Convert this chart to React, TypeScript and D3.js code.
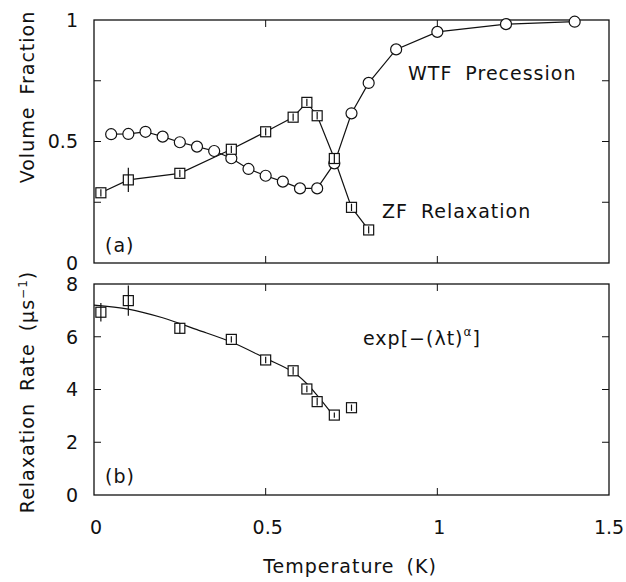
import * as d3 from "d3";

// WTF precession fraction (circles)
const wtfT = [0.05, 0.1, 0.15, 0.2, 0.25, 0.3, 0.35, 0.4, 0.45, 0.5, 0.55, 0.6, 0.65, 0.7, 0.75, 0.8, 0.88, 1.0, 1.2, 1.4];
const wtfV = [0.53, 0.531, 0.54, 0.52, 0.497, 0.479, 0.461, 0.431, 0.387, 0.359, 0.335, 0.307, 0.307, 0.41, 0.616, 0.741, 0.879, 0.951, 0.983, 0.993];

// ZF relaxation fraction (squares)
const zfT = [0.02, 0.1, 0.25, 0.4, 0.5, 0.58, 0.62, 0.65, 0.7, 0.75, 0.8];
const zfV = [0.289, 0.342, 0.369, 0.468, 0.54, 0.6, 0.661, 0.606, 0.43, 0.229, 0.136];
const zfErr = [0.015, 0.05, 0.015, 0.015, 0.015, 0.015, 0.015, 0.015, 0.02, 0.015, 0.015];

// relaxation rate (b)
const rateT = [0.02, 0.1, 0.25, 0.4, 0.5, 0.58, 0.62, 0.65, 0.7, 0.75];
const rateV = [6.93, 7.37, 6.32, 5.9, 5.12, 4.71, 4.02, 3.54, 3.03, 3.31];
const rateErr = [0.35, 0.57, 0.2, 0.12, 0.12, 0.15, 0.12, 0.15, 0.1, 0.12];

// fitted curve through (b)
const fitT = [0, 0.1, 0.2, 0.3, 0.4, 0.5, 0.58, 0.62, 0.65, 0.7];
const fitV = [7.2, 7.05, 6.72, 6.27, 5.8, 5.18, 4.66, 4.22, 3.78, 2.97];

const xTicks = [0, 0.5, 1, 1.5];
const fracTicks = [0, 0.5, 1];
const fracMinor = [0.25, 0.5, 0.75];
const rateTicks = [0, 2, 4, 6, 8];

const FONT = "DejaVu Sans";
const L = 94, R = 609;

const x = d3.scaleLinear().domain([0, 1.5]).range([L, R]);
const yA = d3.scaleLinear().domain([0, 1]).range([263, 20]);
const yB = d3.scaleLinear().domain([0, 8]).range([495, 284]);

const line = (xs: number[], ys: number[], y: d3.ScaleLinear<number, number>, curve: d3.CurveFactory = d3.curveLinear) =>
  d3.line<number>().x((t) => x(t)).y((_, i) => y(ys[i])).curve(curve)(xs) || "";

const Frame = ({ y, minor }: { y: d3.ScaleLinear<number, number>; minor: number[] }) => {
  const [b, t] = y.range();
  return (
    <g stroke="#111" fill="none">
      <rect x={L} y={t} width={R - L} height={b - t} strokeWidth={1.3} />
      {[0.5, 1].map((v) => (
        <g key={v}>
          <line x1={x(v)} x2={x(v)} y1={t} y2={t + 7} />
          <line x1={x(v)} x2={x(v)} y1={b} y2={b - 7} />
        </g>
      ))}
      {minor.map((v) => (
        <g key={v}>
          <line x1={L} x2={L + 7} y1={y(v)} y2={y(v)} />
          <line x1={R} x2={R - 7} y1={y(v)} y2={y(v)} />
        </g>
      ))}
    </g>
  );
};

const Square = ({ cx, cy, e0, e1 }: { cx: number; cy: number; e0: number; e1: number }) => (
  <g stroke="#111" strokeWidth={1.2} fill="white">
    <rect x={cx - 5} y={cy - 5} width={10} height={10} />
    <line x1={cx} x2={cx} y1={e0} y2={e1} />
  </g>
);

export default function App() {
  return (
    <svg width={626} height={582} style={{ position: "absolute", left: 0, top: 0, background: "white" }} fontFamily={FONT}>
      <Frame y={yA} minor={fracMinor} />
      <Frame y={yB} minor={[2, 4, 6]} />

      {/* panel (a) */}
      <path d={line(wtfT, wtfV, yA)} fill="none" stroke="#111" strokeWidth={1.2} />
      <path d={line(zfT, zfV, yA)} fill="none" stroke="#111" strokeWidth={1.2} />
      {wtfT.map((t, i) => (
        <circle key={i} cx={x(t)} cy={yA(wtfV[i])} r={5.5} fill="white" stroke="#111" strokeWidth={1.2} />
      ))}
      {zfT.map((t, i) => (
        <Square key={i} cx={x(t)} cy={yA(zfV[i])} e0={yA(zfV[i] - zfErr[i])} e1={yA(zfV[i] + zfErr[i])} />
      ))}

      {/* panel (b) */}
      <path d={line(fitT, fitV, yB, d3.curveCatmullRom)} fill="none" stroke="#111" strokeWidth={1.2} />
      {rateT.map((t, i) => (
        <Square key={i} cx={x(t)} cy={yB(rateV[i])} e0={yB(rateV[i] - rateErr[i])} e1={yB(rateV[i] + rateErr[i])} />
      ))}

      <g fontSize={19} fill="#111">
        {fracTicks.map((v) => (
          <text key={v} x={78} y={yA(v)} dy="0.36em" textAnchor="end">{v}</text>
        ))}
        {rateTicks.map((v) => (
          <text key={v} x={78} y={yB(v)} dy="0.36em" textAnchor="end">{v}</text>
        ))}
        {xTicks.map((v) => (
          <text key={v} x={x(v) + (v === 1.5 ? 0 : 2)} y={534} textAnchor="middle">{v}</text>
        ))}
      </g>
      <g fontSize={19} fill="#111" letterSpacing={1}>
        <text x={350} y={573} textAnchor="middle" wordSpacing={5}>Temperature (K)</text>
        <text transform="translate(34,97) rotate(-90)" textAnchor="middle" wordSpacing={5}>Volume Fraction</text>
        <text transform="translate(34,392) rotate(-90)" textAnchor="middle" wordSpacing={5}>
          Relaxation Rate (μs<tspan dy={-7} fontSize={12}>−1</tspan><tspan dy={7}>)</tspan>
        </text>
        <text x={105} y={252}>(a)</text>
        <text x={105} y={483}>(b)</text>
        <text x={408} y={80} wordSpacing={6}>WTF Precession</text>
        <text x={382} y={218} wordSpacing={6}>ZF Relaxation</text>
        <text x={363} y={345}>
          exp[−(λt)<tspan dy={-9} fontSize={12}>α</tspan><tspan dy={9}>]</tspan>
        </text>
      </g>
    </svg>
  );
}
